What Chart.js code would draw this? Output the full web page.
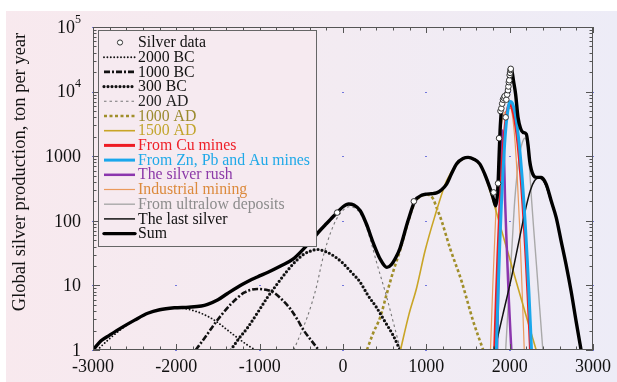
<!DOCTYPE html>
<html>
<head>
<meta charset="utf-8">
<script src="https://cdn.jsdelivr.net/npm/chart.js@4.4.0/dist/chart.umd.min.js"></script>
<style>
  body { margin: 0; background: #fff; }
  canvas { display: block; }
</style>
</head>
<body>
<canvas id="chart" width="617" height="382"></canvas>
<script>
// values (year, ton per year)
const dataX = [-70, 850, 1808, 1861, 1873, 1890, 1900, 1910, 1920, 1930, 1940, 1952, 1960, 1970, 1980, 1985, 1990, 1995, 2000, 2005, 2010, 2013];
const dataY = [134, 200, 275, 380, 1900, 5000, 5500, 6500, 7500, 8000, 8500, 4000, 7500, 9000, 10500, 12000, 14000, 15000, 18000, 19500, 21500, 22500];

const bc2000X = [-2950, -2800, -2600, -2400, -2200, -2000, -1800, -1600, -1500, -1400, -1267, -1150, -1050];
const bc2000Y = [1, 1.5, 2.4, 3.4, 4.2, 4.5, 4.1, 3.2, 2.65, 2.1, 1.55, 1.2, 1];

const bc1000X = [-1768, -1650, -1545, -1450, -1347, -1187, -1028, -900, -828, -730, -630, -550, -470, -380, -292];
const bc1000Y = [1, 1.6, 2.5, 3.6, 5.1, 7.7, 8.8, 8.4, 7.7, 6.0, 4.3, 3.0, 2.0, 1.4, 1];

const bc300X = [-1347, -1250, -1147, -1030, -908, -790, -669, -570, -470, -390, -310, -200, -100, 0, 100, 200, 300, 400, 500, 600, 685];
const bc300Y = [1, 1.5, 2.2, 3.7, 6.5, 10.5, 16.8, 23.5, 30.4, 34, 36, 33, 28, 22, 16, 11.5, 7, 4.6, 2.8, 1.7, 1];

const ad200X = [-590, -500, -430, -370, -311, -271, -231, -150, -72, 0, 70, 130, 207, 280, 340, 406, 466, 526, 600, 690];
const ad200Y = [1, 1.9, 3.2, 5.5, 10.4, 18, 30, 65, 110, 145, 165, 160, 130, 80, 45, 22, 12, 6.5, 2.8, 1];

const ad1000X = [287, 360, 446, 526, 606, 685, 780, 864, 950, 1010, 1080, 1123, 1183, 1283, 1422, 1562, 1682];
const ad1000Y = [1, 1.8, 3.2, 7.5, 17, 35, 95, 195, 245, 255, 220, 160, 100, 38, 11.7, 2.8, 1];

const ad1500X = [690, 790, 884, 984, 1100, 1243, 1362, 1440, 1500, 1560, 1641, 1700, 1760, 1801, 1900, 2000, 2100, 2200, 2318];
const ad1500Y = [1, 3.5, 9.2, 34, 115, 417, 740, 900, 950, 920, 740, 520, 300, 205, 73, 26, 9.2, 3.3, 1];

const cuX = [1820, 1840, 1860, 1880, 1900, 1920, 1940, 1960, 1980, 2000, 2020, 2040, 2060, 2080, 2100, 2120, 2140, 2160, 2180, 2200, 2220, 2240, 2250];
const cuY = [1, 6.3, 32, 129, 425, 1120, 2400, 4100, 5650, 6300, 6000, 5050, 3800, 2580, 1560, 840, 405, 175, 68, 23, 7.2, 2, 1];

const znX = [1840, 1860, 1880, 1900, 1920, 1940, 1960, 1980, 2000, 2010, 2030, 2050, 2070, 2090, 2110, 2130, 2150, 2170, 2190, 2210, 2230, 2250, 2262];
const znY = [1, 7, 40, 173, 590, 1580, 3300, 5350, 6900, 7000, 6700, 5650, 4300, 2900, 1770, 950, 460, 200, 77, 27, 8.3, 2.3, 1];

const rushX = [1849, 1865, 1885, 1900, 1915, 1930, 1945, 1965, 1990, 2020];
const rushY = [1, 15, 205, 1100, 2500, 1300, 205, 40, 6, 1];

const industX = [1770, 1800, 1830, 1860, 1880, 1900, 1930, 1960, 1990, 2010, 2030, 2060, 2090, 2120, 2150, 2175];
const industY = [1, 12, 100, 600, 1500, 3000, 4500, 5000, 5500, 5500, 4500, 2000, 500, 80, 8, 1];

const ultraX = [1952, 1990, 2030, 2060, 2090, 2120, 2150, 2180, 2200, 2219, 2240, 2263, 2290, 2320, 2360, 2398];
const ultraY = [1, 7, 45, 200, 550, 1100, 1600, 1900, 1800, 1300, 600, 210, 70, 22, 4.5, 1];

const lastX = [1820, 1920, 2020, 2120, 2200, 2250, 2300, 2350, 2400, 2438, 2498, 2558, 2617, 2677, 2737, 2797, 2857];
const lastY = [1, 3.6, 13, 55, 170, 300, 420, 460, 420, 340, 195, 110, 48, 21, 8.2, 2.8, 1];

const sumX = [-3000, -2900, -2800, -2662, -2500, -2343, -2200, -2024, -1850, -1700, -1625, -1500, -1386, -1200, -1028, -900, -749, -600, -470, -350, -271, -200, -150, -72, 0, 68, 130, 207, 280, 367, 450, 526, 580, 640, 685, 780, 864, 950, 1004, 1060, 1123, 1180, 1243, 1300, 1362, 1440, 1502, 1570, 1641, 1700, 1760, 1800, 1832, 1850, 1862, 1873, 1885, 1900, 1920, 1950, 1980, 2000, 2013, 2030, 2045, 2071, 2100, 2130, 2160, 2200, 2220, 2240, 2260, 2287, 2320, 2380, 2438, 2498, 2558, 2617, 2677, 2737, 2797, 2857];
const sumY = [1, 1.4, 1.7, 2.2, 2.9, 3.7, 4.2, 4.5, 4.6, 4.8, 5.1, 6.0, 7.5, 10.5, 13.5, 16, 20, 25.5, 37, 55, 72, 90, 105, 134, 165, 182, 175, 143, 90, 44, 25, 19, 21, 28, 38, 100, 204, 250, 259, 262, 270, 300, 370, 530, 760, 920, 960, 900, 760, 530, 330, 230, 170, 230, 400, 1000, 2500, 5000, 7500, 9000, 12000, 19000, 22500, 20000, 15000, 9200, 4000, 2700, 2340, 2200, 1500, 850, 620, 500, 470, 470, 370, 204, 113, 49, 21, 8.2, 2.8, 1];

const xTicks = [-3000, -2000, -1000, 0, 1000, 2000, 3000];
const yTicks = [1, 10, 100, 1000, 10000, 100000];
const yTickLabels = [["1", ""], ["10", ""], ["100", ""], ["1000", ""], ["10", "4"], ["10", "5"]];

const SERIF = "'Liberation Serif', 'DejaVu Serif', serif";
const pts = (xs, ys) => xs.map((x, i) => ({ x, y: ys[i] }));

function curve(label, xs, ys, color, width, dash, cap, textColor, order) {
  return {
    label, data: pts(xs, ys), showLine: true, borderColor: color, borderWidth: width,
    borderDash: dash, borderCapStyle: cap, pointRadius: 0, cubicInterpolationMode: "monotone",
    textColor, order
  };
}

const datasets = [
  {
    label: "Silver data", data: pts(dataX, dataY), showLine: false, pointRadius: 2.8,
    pointBackgroundColor: "#fff", pointBorderColor: "#333", pointBorderWidth: 1,
    textColor: "#111", order: 0, isPoints: true
  },
  curve("2000 BC", bc2000X, bc2000Y, "#111", 1.9, [0, 3.4], "round", "#111", 5),
  curve("1000 BC", bc1000X, bc1000Y, "#111", 2.6, [6, 2, 2, 2], "butt", "#111", 5),
  curve("300 BC", bc300X, bc300Y, "#111", 3.2, [0, 4], "round", "#111", 5),
  curve("200 AD", ad200X, ad200Y, "#777", 1.1, [2.5, 3], "butt", "#222", 5),
  curve("1000 AD", ad1000X, ad1000Y, "#a08e2a", 2.6, [3, 2.5], "butt", "#9a8a2e", 5),
  curve("1500 AD", ad1500X, ad1500Y, "#c9a526", 1.6, [], "butt", "#c2a52c", 4),
  curve("From Cu mines", cuX, cuY, "#ee1c24", 3, [], "butt", "#ee2028", 3),
  curve("From Zn, Pb and Au mines", znX, znY, "#1aa7ec", 3, [], "butt", "#1fa9e8", 2),
  curve("The silver rush", rushX, rushY, "#8b36ad", 2.5, [], "butt", "#8c3aa8", 3),
  curve("Industrial mining", industX, industY, "#eb9a5c", 1.2, [], "butt", "#dc8a3c", 4),
  curve("From ultralow deposits", ultraX, ultraY, "#a9a9a9", 1.4, [], "butt", "#8c8c8c", 4),
  curve("The last silver", lastX, lastY, "#111", 1.5, [], "butt", "#111", 2),
  curve("Sum", sumX, sumY, "#000", 3.4, [], "round", "#111", 1)
];

const bgPlugin = {
  id: "bg",
  beforeDraw(chart) {
    const c = chart.ctx;
    const g = c.createLinearGradient(0, 0, 617, 0);
    g.addColorStop(0, "#f8e9ee");
    g.addColorStop(0.55, "#f3ebf2");
    g.addColorStop(1, "#edecf7");
    c.save();
    c.fillStyle = "#fff";
    c.fillRect(0, 0, 617, 382);
    c.fillStyle = g;
    c.fillRect(6, 11, 611, 371);
    c.restore();
  },
  beforeDatasetsDraw(chart) {
    const c = chart.ctx, xs = chart.scales.x, ys = chart.scales.y;
    c.save();
    c.fillStyle = "rgba(60,70,210,0.7)";
    for (const xv of xTicks) for (const yv of yTicks) {
      c.fillRect(Math.round(xs.getPixelForValue(xv)) - 1, Math.round(ys.getPixelForValue(yv)), 2, 1);
    }
    c.restore();
  }
};

const framePlugin = {
  id: "frame",
  afterDatasetsDraw(chart) {
    const c = chart.ctx, a = chart.chartArea, xs = chart.scales.x, ys = chart.scales.y;
    c.save();
    c.strokeStyle = "#555";
    c.lineWidth = 1;
    c.strokeRect(a.left + 0.5, a.top + 0.5, a.right - a.left - 1, a.bottom - a.top - 1);
    c.beginPath();
    for (let v = -3000; v <= 3000; v += 200) {
      const px = Math.round(xs.getPixelForValue(v)) + 0.5;
      const len = v % 1000 === 0 ? 6 : 3.5;
      c.moveTo(px, a.bottom); c.lineTo(px, a.bottom - len);
      c.moveTo(px, a.top); c.lineTo(px, a.top + len);
    }
    for (let d = 1; d < 100000; d *= 10) {
      for (let m = 1; m < 10; m++) {
        const py = Math.round(ys.getPixelForValue(d * m)) + 0.5;
        const len = m === 1 ? 7 : 3.5;
        c.moveTo(a.left, py); c.lineTo(a.left + len, py);
        c.moveTo(a.right, py); c.lineTo(a.right - len, py);
      }
    }
    c.stroke();

    // y tick labels with superscripts
    c.fillStyle = "#111";
    c.textBaseline = "middle";
    yTicks.forEach((v, i) => {
      const py = ys.getPixelForValue(v);
      const [base, sup] = yTickLabels[i];
      c.font = "12px " + SERIF;
      const sw = sup ? c.measureText(sup).width : 0;
      c.textAlign = "left";
      if (sup) c.fillText(sup, 81 - sw, py - 7.5);
      c.font = "18px " + SERIF;
      c.textAlign = "right";
      c.fillText(base, 81 - sw, py + 1);
    });

    // y title
    c.translate(20, 172);
    c.rotate(-Math.PI / 2);
    c.font = "18.5px " + SERIF;
    c.textAlign = "center";
    c.fillText("Global silver production, ton per year", 0, 0);
    c.restore();
  },
  afterDraw(chart) {
    // legend box
    const c = chart.ctx;
    c.save();
    c.fillStyle = "#f6eaf0";
    c.fillRect(98.5, 30.5, 218, 216);
    c.strokeStyle = "#666";
    c.lineWidth = 1;
    c.strokeRect(98.5, 30.5, 218, 216);
    c.font = "15.8px " + SERIF;
    c.textBaseline = "middle";
    c.textAlign = "left";
    chart.data.datasets.forEach((ds, i) => {
      const y = 42.5 + i * 14.7;
      if (ds.isPoints) {
        c.beginPath();
        c.arc(120, y, 2.6, 0, Math.PI * 2);
        c.fillStyle = "#fff";
        c.fill();
        c.strokeStyle = "#333";
        c.stroke();
      } else {
        c.beginPath();
        c.strokeStyle = ds.borderColor;
        c.lineWidth = ds.borderWidth;
        c.setLineDash(ds.borderDash);
        c.lineCap = ds.borderCapStyle;
        c.moveTo(104, y); c.lineTo(135, y);
        c.stroke();
        c.setLineDash([]);
        c.lineCap = "butt";
      }
      c.fillStyle = ds.textColor;
      c.fillText(ds.label, 138, y + 0.5);
    });
    c.restore();
  }
};

new Chart(document.getElementById("chart"), {
  type: "scatter",
  data: { datasets },
  options: {
    responsive: false,
    animation: false,
    layout: { padding: { top: 27, right: 19, left: 0, bottom: 0 } },
    plugins: { legend: { display: false }, tooltip: { enabled: false } },
    scales: {
      x: {
        type: "linear", min: -3000, max: 3000,
        grid: { display: false, drawTicks: false }, border: { display: false },
        ticks: {
          stepSize: 1000, color: "#111", maxRotation: 0, padding: 6,
          font: { family: SERIF, size: 18 }, callback: (v) => String(v)
        },
        afterFit(s) { s.height = 32; }
      },
      y: {
        type: "logarithmic", min: 1, max: 100000,
        grid: { display: false, drawTicks: false }, border: { display: false },
        ticks: { display: false },
        afterFit(s) { s.width = 93; }
      }
    }
  },
  plugins: [bgPlugin, framePlugin]
});
</script>
</body>
</html>
